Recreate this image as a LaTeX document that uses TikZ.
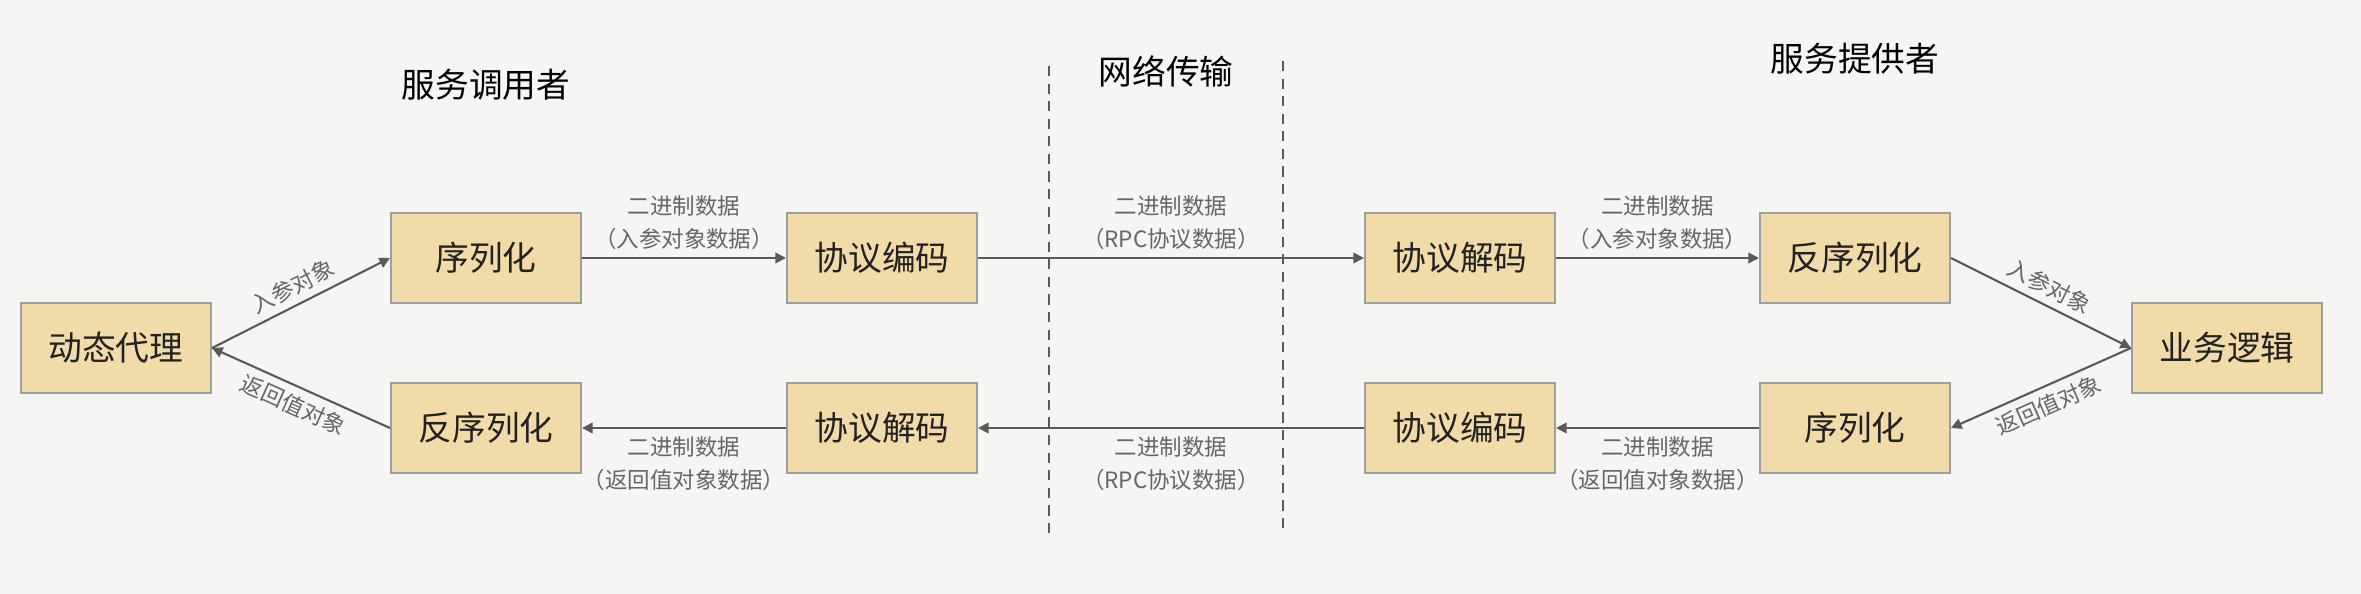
\documentclass[tikz,border=0pt]{standalone}
\usepackage{fontspec}
\setmainfont{Noto Sans CJK SC}
\usetikzlibrary{arrows.meta}
\definecolor{bgc}{HTML}{F5F5F4}
\definecolor{boxfill}{HTML}{F0DBA9}
\definecolor{boxline}{HTML}{9E9E9E}
\definecolor{arrowc}{HTML}{5A5A5A}
\definecolor{lbltext}{HTML}{666666}
\definecolor{boxtext}{HTML}{222222}

\begin{document}
\begin{tikzpicture}[x=0.1mm,y=-0.1mm,
    blk/.style={draw=boxline,fill=boxfill,line width=0.6pt,minimum width=19mm,minimum height=9mm,inner sep=0pt,text=boxtext,font=\fontsize{9.6pt}{11pt}\selectfont},
    lbl/.style={text=lbltext,align=center,inner sep=2pt,font=\fontsize{6.4pt}{9.4pt}\selectfont},
    flow/.style={draw=arrowc,line width=0.6pt,-{Triangle[length=3pt,width=3pt]}},
    ttl/.style={text=black,font=\fontsize{9.6pt}{11pt}\selectfont},
    divider/.style={draw=arrowc,line width=0.6pt,dash pattern=on 2.9pt off 2.1pt}]
  \useasboundingbox[fill=bgc] (0,0) rectangle (2361,594);
  % titles
  \node[ttl] (caller) at (486,85) {服务调用者};
  \node[ttl] (net) at (1166,71) {网络传输};
  \node[ttl] (provider) at (1855,59) {服务提供者};
  % network zone
  \coordinate (d1t) at (1049,66); \coordinate (d1b) at (1049,538);
  \coordinate (d2t) at (1283,61); \coordinate (d2b) at (1283,535);
  \draw[divider] (d1t) -- (d1b);
  \draw[divider] (d2t) -- (d2b);
  % caller side
  \node[blk] (dyn) at (116,348) {动态代理};
  \node[blk] (ser) at (486,258) {序列化};
  \node[blk] (enc) at (882,258) {协议编码};
  \node[blk] (deser) at (486,428) {反序列化};
  \node[blk] (dec) at (882,428) {协议解码};
  % provider side
  \node[blk] (pdec) at (1460,258) {协议解码};
  \node[blk] (pdeser) at (1855,258) {反序列化};
  \node[blk] (biz) at (2227,348) {业务逻辑};
  \node[blk] (penc) at (1460,428) {协议编码};
  \node[blk] (pser) at (1855,428) {序列化};
  % request
  \draw[flow] (dyn.east) -- node[lbl,above,sloped] {入参对象} (ser.west);
  \draw[flow] (ser) -- node[lbl,above] {二进制数据\\（入参对象数据）} (enc);
  \draw[flow] (enc) -- node[lbl,above] {二进制数据\\（RPC协议数据）} (pdec);
  \draw[flow] (pdec) -- node[lbl,above] {二进制数据\\（入参对象数据）} (pdeser);
  \draw[flow] (pdeser.east) -- node[lbl,above,sloped] {入参对象} (biz.west);
  % response
  \draw[flow] (biz.west) -- node[lbl,below,sloped] {返回值对象} (pser.east);
  \draw[flow] (pser) -- node[lbl,below] {二进制数据\\（返回值对象数据）} (penc);
  \draw[flow] (penc) -- node[lbl,below] {二进制数据\\（RPC协议数据）} (dec);
  \draw[flow] (dec) -- node[lbl,below] {二进制数据\\（返回值对象数据）} (deser);
  \draw[flow] (deser.west) -- node[lbl,below,sloped] {返回值对象} (dyn.east);
\end{tikzpicture}
\end{document}
